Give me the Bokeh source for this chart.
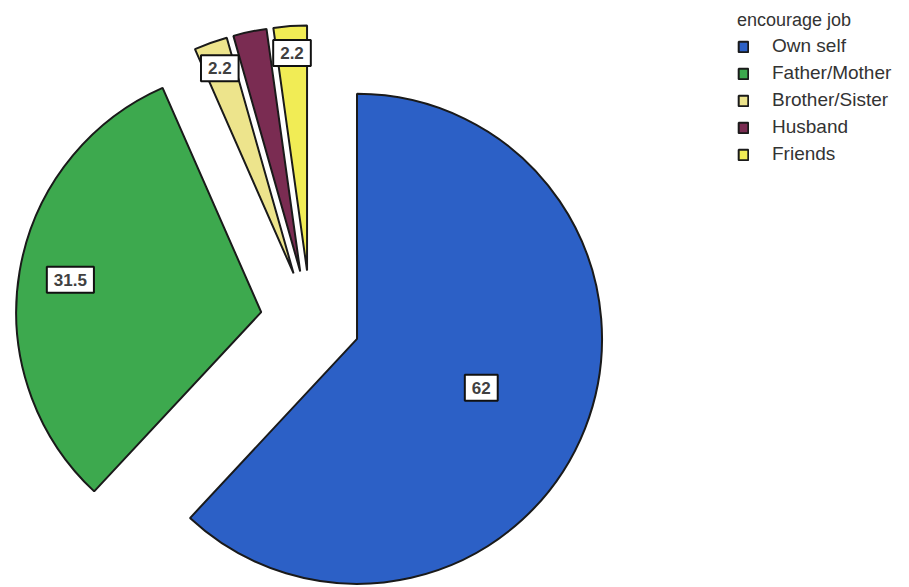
import numpy as np
from bokeh.plotting import figure
from bokeh.models import ColumnDataSource, Range1d, Legend, LegendItem
from bokeh.core.properties import value
from bokeh.embed import file_html
from bokeh.resources import INLINE

# ---- data ----
categories = ["Own self", "Father/Mother", "Brother/Sister", "Husband", "Friends"]
percents = [62, 31.5, 2.2, 2.2, 2.2]
show_label = [True, True, True, False, True]   # Husband label hidden in original
colors = ["#2C60C6", "#3DA94E", "#EDE48C", "#7A2C52", "#F1EC55"]

# ---- layout / style ----
W, H = 909, 587
cx, cy = 310, H - 320
R = 245
explode = 50
label_frac = [0.545, 0.79, 0.89, 0.89, 0.89]
FONT = "Liberation Sans"

vals = np.array(percents, dtype=float)
frac = vals / vals.sum()
cum = np.concatenate([[0.0], np.cumsum(frac)])
t1 = cum[:-1] * 2 * np.pi          # clockwise from 12 o'clock
t2 = cum[1:] * 2 * np.pi
mid = (t1 + t2) / 2
start = np.pi / 2 - t2
end = np.pi / 2 - t1
dx, dy = np.sin(mid), np.cos(mid)
xs = cx + explode * dx
ys = cy + explode * dy
lf = np.array(label_frac)
lx = xs + R * lf * dx
ly = ys + R * lf * dy

src = ColumnDataSource(dict(x=xs, y=ys, start=start, end=end, color=colors, cat=categories))

p = figure(width=W, height=H, x_range=Range1d(0, W), y_range=Range1d(0, H),
           output_backend="svg", toolbar_location=None, min_border=0,
           x_axis_location=None, y_axis_location=None)
p.grid.visible = False
p.outline_line_color = None
p.background_fill_color = "white"

r = p.wedge(x="x", y="y", radius=R, start_angle="start", end_angle="end",
            fill_color="color", line_color="#1a1a1a", line_width=2, source=src)

idx = [i for i, s in enumerate(show_label) if s]
lsrc = ColumnDataSource(dict(x=lx[idx], y=ly[idx],
                             t=[("%g" % percents[i]) for i in idx]))
p.text(x="x", y="y", text="t", source=lsrc, text_align="center",
       text_baseline="middle", text_font=value(FONT), text_font_size="17px",
       text_font_style="bold", text_color="#404040",
       background_fill_color="white", border_line_color="#111111",
       border_line_width=2, padding=7)

items = [LegendItem(label=c, renderers=[r], index=i) for i, c in enumerate(categories)]
legend = Legend(items=items, location=(737, 422), title="encourage job",
                title_text_font=FONT, title_text_font_size="18px",
                title_text_font_style="normal", title_text_color="#333333",
                title_standoff=4,
                label_text_font=FONT, label_text_font_size="19px",
                label_text_color="#333333", glyph_width=12, glyph_height=13,
                label_standoff=23, label_height=21, spacing=5, padding=0,
                margin=0, border_line_color=None, background_fill_alpha=0)
p.add_layout(legend)

open("out.html", "w").write(file_html(p, INLINE))
